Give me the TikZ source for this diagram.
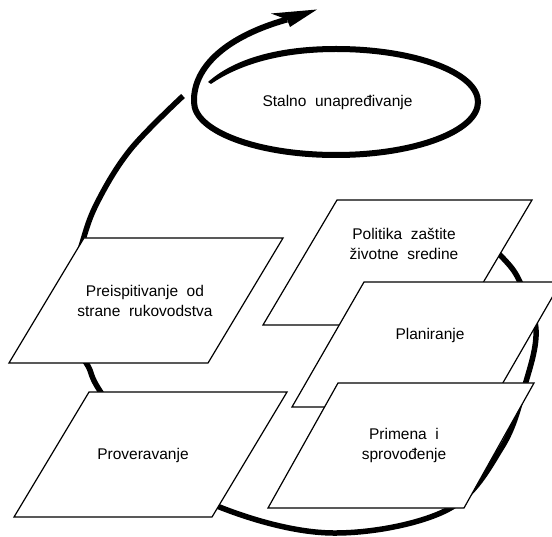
\documentclass[tikz,border=0pt]{standalone}
\usepackage{fontspec}
\setmainfont[WordSpace=2]{Liberation Sans}
\begin{document}
\begin{tikzpicture}[x=1pt,y=-1pt,
  pbox/.style={draw=black,line width=1.2pt,fill=white,line join=miter},
  lbl/.style={align=center,inner sep=0pt,font=\fontsize{15.5pt}{20.5pt}\selectfont},
  loopline/.style={line width=5.5pt,line cap=butt},
  spiral/.style={line width=6pt,line cap=butt}]
\clip (0,0) rectangle (552,537);
\fill[white] (0,0) rectangle (552,537);
% big cycle arc
\draw[loopline] plot[smooth,tension=0.6] coordinates {(183,96) (130,150) (96,205) (80,250) (66,300) (72,340) (88,366) (100,391) (150,462) (222,508) (333,533) (447,510) (502,447) (525,385) (536,330) (520,282) (502,257) (470,228)};
% spiral with arrow
\fill (208,82) .. controls (235,58) and (280,46) .. (336,46) -- (336,52) .. controls (282,52) and (240,64) .. (211,84) -- cycle;
\draw[spiral] (336,49) .. controls (414.4,49) and (478,72.7) .. (478,102)
  .. controls (478,131.3) and (414.4,155) .. (336,155)
  .. controls (257.6,155) and (194,131.3) .. (194,102)
  .. controls (193,66) and (228,36) .. coordinate[pos=1] (shaftend) (287,19.5);
\coordinate (tip) at (317,9.5);
\fill (tip) -- (271,13.5) -- (shaftend) -- (290,27) -- cycle;
\node[lbl] (stalno) at (337.5,102.5) {Stalno unapređivanje};
% boxes
\newcommand\pgram[5]{%
  \draw[pbox] (#2,#3) coordinate (#1-bl) -- ++(#4,0) coordinate (#1-br)
    -- ++(#5,-125) coordinate (#1-tr) -- ++(-#4,0) coordinate (#1-tl) -- cycle;}
\pgram{prei}{9}{363}{199}{75}
\pgram{prov}{14}{517}{198}{75}
\pgram{poli}{263}{325}{195}{74}
\pgram{plan}{292}{407}{197}{72}
\pgram{prim}{268}{508}{196}{70}
\node[lbl] (tprei) at (145,301) {Preispitivanje od\\strane rukovodstva};
\node[lbl] (tprov) at (143,455.5) {Proveravanje};
\node[lbl] (tpoli) at (404,244) {Politika zaštite\\životne sredine};
\node[lbl] (tplan) at (430,335) {Planiranje};
\node[lbl] (tprim) at (404,445.5) {Primena i\\sprovođenje};
\end{tikzpicture}
\end{document}
